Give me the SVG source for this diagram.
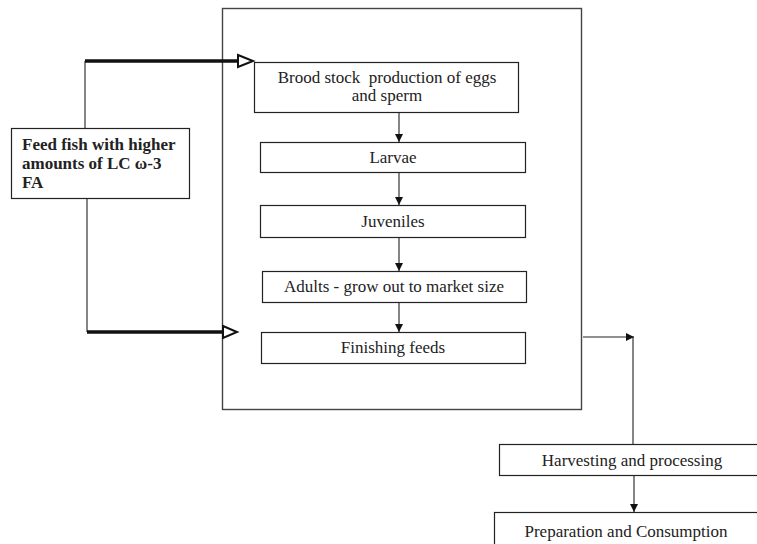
<svg xmlns="http://www.w3.org/2000/svg" width="757" height="544" viewBox="0 0 757 544">
<defs>
<marker id="sm" viewBox="0 0 10 10" refX="10" refY="5" markerWidth="8" markerHeight="8" markerUnits="userSpaceOnUse" orient="auto"><path d="M0,0 L10,5 L0,10 Z" fill="#111"/></marker>
</defs>
<style>
.box{fill:#fff;stroke:#222;stroke-width:1.2}
.t{font-family:"Liberation Serif","Times New Roman",serif;font-size:17px;fill:#222;text-anchor:middle}
.b{font-family:"Liberation Serif","Times New Roman",serif;font-size:17px;font-weight:bold;fill:#222}
.thin{stroke:#222;stroke-width:1.1;fill:none}
.thick{stroke:#111;stroke-width:3.5;fill:none}
.open{fill:#fff;stroke:#111;stroke-width:2}
</style>
<rect width="757" height="544" fill="#fff"/>
<g id="frame"><rect x="222.5" y="8.5" width="359" height="401" fill="none" stroke="#444" stroke-width="1.4"/></g>
<g id="connectors">
<path class="thin" d="M85,128 V61"/>
<path class="thick" d="M85,61 H238"/>
<path class="open" d="M238,55 L253,61 L238,67 Z"/>
<path class="thin" d="M87,180 V332"/>
<path class="thick" d="M87,332 H223"/>
<path class="open" d="M223,326 L237,332 L223,338 Z"/>
<path class="thin" d="M399,112 V142" marker-end="url(#sm)"/>
<path class="thin" d="M399,172 V205" marker-end="url(#sm)"/>
<path class="thin" d="M399,237 V271" marker-end="url(#sm)"/>
<path class="thin" d="M399,302 V332" marker-end="url(#sm)"/>
<path class="thin" d="M583,337 H634" marker-end="url(#sm)"/>
<path class="thin" d="M633,337 V444"/>
<path class="thin" d="M634,475 V512" marker-end="url(#sm)"/>
</g>
<g id="feed"><rect class="box" x="11.5" y="128.5" width="178" height="70"/>
<text class="b" x="22" y="150">Feed fish with higher</text>
<text class="b" x="22" y="169">amounts of LC ω-3</text>
<text class="b" x="22" y="188">FA</text></g>
<g id="brood"><rect class="box" x="254.5" y="62.5" width="264" height="50"/>
<text class="t" x="387" y="83" xml:space="preserve">Brood stock  production of eggs</text>
<text class="t" x="387" y="101">and sperm</text></g>
<g id="larvae"><rect class="box" x="260.5" y="142.5" width="265" height="30"/>
<text class="t" x="393" y="163">Larvae</text></g>
<g id="juveniles"><rect class="box" x="260.5" y="205.5" width="265" height="32"/>
<text class="t" x="393" y="227">Juveniles</text></g>
<g id="adults"><rect class="box" x="262.5" y="271.5" width="264" height="31"/>
<text class="t" x="394" y="292">Adults - grow out to market size</text></g>
<g id="finishing"><rect class="box" x="261.5" y="332.5" width="264" height="31"/>
<text class="t" x="393" y="353">Finishing feeds</text></g>
<g id="harvest"><rect class="box" x="499.5" y="444.5" width="262" height="31"/>
<text class="t" x="632" y="466">Harvesting and processing</text></g>
<g id="prep"><rect class="box" x="494.5" y="512.5" width="270" height="40"/>
<text class="t" x="626" y="537">Preparation and Consumption</text></g>
</svg>
